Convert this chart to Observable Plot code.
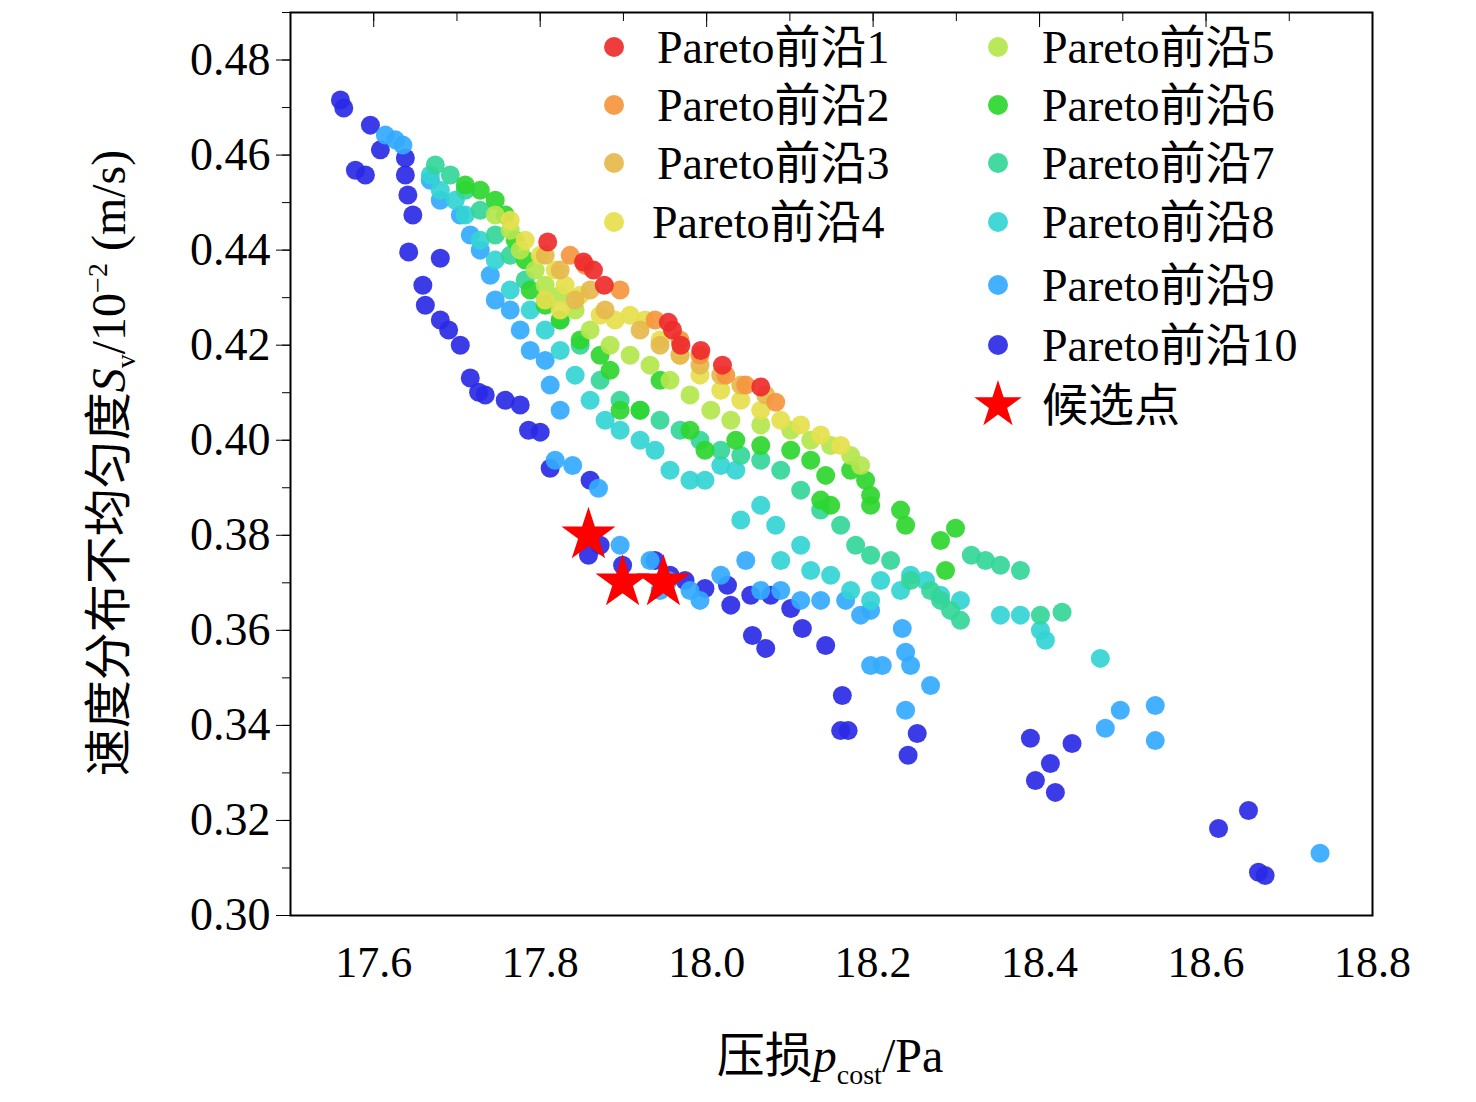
<!DOCTYPE html>
<html><head><meta charset="utf-8">
<script src="https://cdn.jsdelivr.net/npm/d3@7"></script>
<script src="https://cdn.jsdelivr.net/npm/@observablehq/plot@0.6"></script>
<style>body{margin:0;background:#fff}</style>
</head><body><div id="c"></div>
<script>
const front1=[[17.809,0.4417],[17.852,0.4375],[17.864,0.4358],[17.877,0.4326],[17.954,0.4248],[17.959,0.4232],[17.969,0.4200],[17.993,0.4189],[18.019,0.4158],[18.065,0.4112]];
const front2=[[17.836,0.4389],[17.854,0.4368],[17.896,0.4316],[17.938,0.4253],[17.968,0.4211],[17.992,0.4179],[18.023,0.4137],[18.047,0.4116],[18.083,0.4080]];
const front3=[[17.806,0.4389],[17.824,0.4358],[17.842,0.4295],[17.860,0.4316],[17.878,0.4274],[17.920,0.4232],[17.944,0.4200],[17.968,0.4179],[17.992,0.4158],[18.017,0.4137],[18.041,0.4116],[18.071,0.4095]];
const front4=[[17.764,0.4463],[17.782,0.4421],[17.800,0.4389],[17.818,0.4358],[17.830,0.4326],[17.848,0.4305],[17.872,0.4263],[17.890,0.4253],[17.908,0.4263],[17.926,0.4253],[17.944,0.4211],[17.968,0.4179],[17.992,0.4137],[18.017,0.4105],[18.041,0.4084],[18.065,0.4063],[18.089,0.4042],[18.113,0.4032],[18.137,0.4011],[18.161,0.3989],[17.806,0.4295],[17.824,0.4274]];
const front5=[[17.746,0.4474],[17.764,0.4442],[17.776,0.4400],[17.794,0.4358],[17.806,0.4326],[17.824,0.4305],[17.842,0.4274],[17.860,0.4232],[17.884,0.4200],[17.908,0.4179],[17.932,0.4158],[17.956,0.4126],[17.980,0.4095],[18.005,0.4063],[18.029,0.4042],[18.065,0.4032],[18.101,0.4021],[18.125,0.4000],[18.149,0.3989],[18.173,0.3968],[18.185,0.3947]];
const front6=[[17.710,0.4537],[17.728,0.4526],[17.746,0.4505],[17.758,0.4474],[17.770,0.4421],[17.782,0.4379],[17.788,0.4316],[17.806,0.4284],[17.824,0.4253],[17.848,0.4211],[17.872,0.4179],[17.884,0.4147],[17.896,0.4063],[17.920,0.4063],[17.944,0.4126],[17.980,0.4021],[17.998,0.3979],[18.035,0.4000],[18.065,0.3989],[18.101,0.3979],[18.125,0.3958],[18.143,0.3926],[18.137,0.3874],[18.149,0.3863],[18.173,0.3937],[18.191,0.3916],[18.197,0.3884],[18.197,0.3863],[18.233,0.3853],[18.239,0.3821],[18.281,0.3789],[18.299,0.3815],[18.287,0.3726]];
const front7=[[17.674,0.4579],[17.692,0.4558],[17.710,0.4526],[17.728,0.4484],[17.746,0.4432],[17.764,0.4389],[17.782,0.4337],[17.806,0.4295],[17.824,0.4253],[17.848,0.4200],[17.872,0.4126],[17.896,0.4084],[17.920,0.4063],[17.944,0.4042],[17.968,0.4021],[17.992,0.4000],[18.017,0.3979],[18.041,0.3968],[18.065,0.3958],[18.089,0.3937],[18.113,0.3895],[18.137,0.3853],[18.161,0.3821],[18.179,0.3779],[18.197,0.3758],[18.221,0.3747],[18.245,0.3705],[18.269,0.3684],[18.281,0.3663],[18.293,0.3642],[18.305,0.3621],[18.318,0.3758],[18.335,0.3747],[18.353,0.3737],[18.377,0.3726],[18.401,0.3632],[18.427,0.3638]];
const front8=[[17.668,0.4558],[17.680,0.4526],[17.698,0.4505],[17.710,0.4474],[17.728,0.4421],[17.746,0.4379],[17.764,0.4316],[17.788,0.4274],[17.806,0.4232],[17.824,0.4189],[17.842,0.4137],[17.860,0.4084],[17.878,0.4042],[17.896,0.4021],[17.920,0.4000],[17.938,0.3979],[17.956,0.3937],[17.980,0.3916],[17.998,0.3916],[18.017,0.3947],[18.035,0.3937],[18.041,0.3832],[18.065,0.3863],[18.083,0.3821],[18.089,0.3747],[18.113,0.3779],[18.125,0.3726],[18.149,0.3716],[18.173,0.3684],[18.197,0.3663],[18.209,0.3705],[18.233,0.3684],[18.245,0.3716],[18.263,0.3705],[18.281,0.3674],[18.305,0.3663],[18.353,0.3632],[18.377,0.3632],[18.401,0.3600],[18.407,0.3579],[18.473,0.3541]];
const front9=[[17.614,0.4642],[17.626,0.4632],[17.635,0.4621],[17.668,0.4547],[17.680,0.4505],[17.704,0.4474],[17.716,0.4432],[17.728,0.4400],[17.740,0.4347],[17.746,0.4295],[17.764,0.4274],[17.776,0.4232],[17.788,0.4189],[17.806,0.4168],[17.812,0.4116],[17.824,0.4063],[17.818,0.3958],[17.839,0.3947],[17.870,0.3899],[17.896,0.3779],[17.932,0.3747],[17.944,0.3684],[17.954,0.3705],[17.980,0.3684],[17.992,0.3663],[18.017,0.3716],[18.047,0.3747],[18.065,0.3684],[18.089,0.3684],[18.113,0.3663],[18.137,0.3663],[18.167,0.3663],[18.185,0.3632],[18.197,0.3642],[18.197,0.3526],[18.211,0.3526],[18.235,0.3604],[18.239,0.3554],[18.245,0.3526],[18.269,0.3484],[18.239,0.3432],[18.479,0.3394],[18.497,0.3432],[18.539,0.3442],[18.539,0.3368],[18.737,0.3131]];
const front10=[[17.560,0.4716],[17.564,0.4699],[17.578,0.4568],[17.590,0.4558],[17.596,0.4663],[17.608,0.4611],[17.638,0.4594],[17.638,0.4558],[17.641,0.4516],[17.647,0.4474],[17.642,0.4396],[17.659,0.4326],[17.680,0.4383],[17.662,0.4284],[17.680,0.4253],[17.690,0.4232],[17.704,0.4200],[17.716,0.4131],[17.726,0.4101],[17.734,0.4095],[17.758,0.4084],[17.776,0.4074],[17.786,0.4021],[17.800,0.4017],[17.812,0.3941],[17.860,0.3916],[17.858,0.3758],[17.872,0.3779],[17.899,0.3737],[17.938,0.3747],[17.956,0.3716],[17.974,0.3705],[17.998,0.3688],[18.025,0.3695],[18.029,0.3653],[18.053,0.3674],[18.077,0.3674],[18.101,0.3646],[18.055,0.3589],[18.071,0.3562],[18.115,0.3604],[18.143,0.3568],[18.163,0.3463],[18.161,0.3389],[18.170,0.3389],[18.242,0.3337],[18.253,0.3383],[18.389,0.3373],[18.395,0.3284],[18.413,0.3320],[18.419,0.3259],[18.439,0.3362],[18.615,0.3183],[18.651,0.3221],[18.663,0.3091],[18.671,0.3084]];
const candidates=[[17.858,0.3800],[17.899,0.3701],[17.948,0.3701]];
const fronts=[front1,front2,front3,front4,front5,front6,front7,front8,front9,front10];
const frontNames=["Pareto前沿1","Pareto前沿2","Pareto前沿3","Pareto前沿4","Pareto前沿5","Pareto前沿6","Pareto前沿7","Pareto前沿8","Pareto前沿9","Pareto前沿10"];
const colors=["#ee2b2b","#f5963f","#e6b84d","#e6e04d","#b4e64d","#2ed62e","#33d699","#33d4d4","#33aaff","#2a2ae6"];
const candName="候选点";
const xTicks=[17.6,17.8,18.0,18.2,18.4,18.6,18.8];
const yTicks=[0.30,0.32,0.34,0.36,0.38,0.40,0.42,0.44,0.46,0.48];

const data=[];
fronts.forEach((f,i)=>f.forEach(([x,y])=>data.push({x,y,k:frontNames[i]})));
data.reverse();
const font='"Liberation Serif","Noto Sans CJK SC",serif';
const minorX=d3.range(17.5,18.81,0.1).map(v=>+v.toFixed(2));
const minorY=d3.range(0.30,0.491,0.01).map(v=>+v.toFixed(3));
const chart=Plot.plot({
  width:1476,height:1102,
  marginLeft:290,marginRight:104,marginTop:12,marginBottom:187,
  style:{fontFamily:font,fontSize:"44px",background:"#fff"},
  x:{domain:[17.5,18.8]},
  y:{domain:[0.30,0.49]},
  color:{domain:frontNames,range:colors},
  marks:[
    Plot.frame({stroke:"#000",strokeWidth:2}),
    Plot.axisX({ticks:xTicks,tickFormat:d=>d.toFixed(1),tickSize:0,tickPadding:30,fontSize:44,label:null}),
    Plot.axisX({ticks:minorX,tickFormat:()=>"",tickSize:-8,anchor:"top",label:null}),
    Plot.axisX({ticks:xTicks,tickFormat:()=>"",tickSize:-14,anchor:"top",label:null}),
    Plot.axisY({ticks:yTicks,tickFormat:d=>d.toFixed(2),tickSize:14,tickPadding:6,fontSize:46,label:null}),
    Plot.axisY({ticks:minorY,tickFormat:()=>"",tickSize:8,label:null}),
    Plot.dot(data,{x:"x",y:"y",fill:"k",r:9.5,fillOpacity:0.92}),
    Plot.dot(candidates,{x:d=>d[0],y:d=>d[1],symbol:"star",r:17,fill:"#ff0000"})
  ]
});
document.getElementById("c").appendChild(chart);
const svg=d3.select(chart);
svg.selectAll("text").style("font-family",font);
const leg=svg.append("g").attr("text-anchor","start").style("font-family",font).style("font-size","46px");
const rowsY=[47,105,163,222,285,345];
frontNames.forEach((n,i)=>{
  const col=i<4?0:1, row=i<4?i:i-4;
  const cx=col?998:614, tx=col?1042:(i===3?652:657), cy=rowsY[row];
  leg.append("circle").attr("cx",cx).attr("cy",cy).attr("r",10).attr("fill",colors[i]).attr("fill-opacity",0.92);
  leg.append("text").attr("x",tx).attr("y",cy+16).text(n);
});
leg.append("path").attr("d",d3.symbol(d3.symbolStar,700)()).attr("transform","translate(998,405)").attr("fill","#ff0000");
leg.append("text").attr("x",1042).attr("y",421).text(candName);
const xt=svg.append("text").attr("x",830).attr("y",1072).attr("text-anchor","middle").style("font-family",font).style("font-size","48px");
xt.append("tspan").text("压损");
xt.append("tspan").attr("font-style","italic").text("p");
xt.append("tspan").attr("dy",12).style("font-size","28px").text("cost");
xt.append("tspan").attr("dy",-12).text("/Pa");
const yt=svg.append("text").attr("transform","translate(125,463) rotate(-90)").attr("text-anchor","middle").style("font-family",font).style("font-size","48px");
yt.append("tspan").text("速度分布不均匀度");
yt.append("tspan").attr("font-style","italic").text("S");
yt.append("tspan").attr("dy",10).style("font-size","28px").text("v");
yt.append("tspan").attr("dy",-10).text("/10");
yt.append("tspan").attr("dy",-18).style("font-size","28px").text("−2");
yt.append("tspan").attr("dy",18).text(" (m/s)");
</script></body></html>
